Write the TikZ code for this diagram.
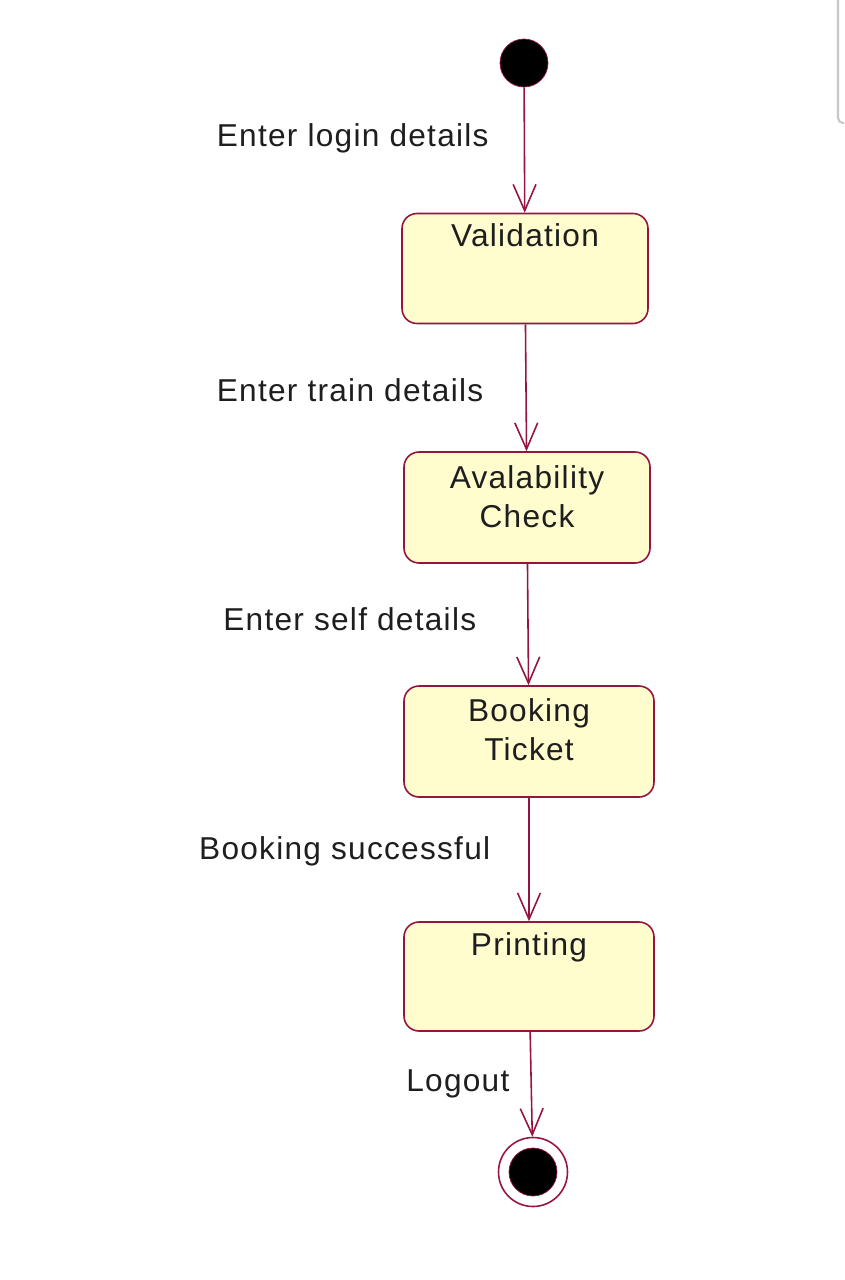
\documentclass[tikz,border=0pt]{standalone}
\usepackage{fontspec}
\setmainfont{Liberation Sans}[LetterSpace=4]
\usepackage{xcolor}
\usepackage{tikz}
\usetikzlibrary{arrows.meta,positioning}

\definecolor{umlline}{RGB}{150,20,65}
\definecolor{umlfill}{RGB}{255,252,206}
\definecolor{umltext}{RGB}{30,30,30}

\begin{document}
\begin{tikzpicture}[
    >={Straight Barb[length=15pt, width=13pt]},
    state/.style={draw=umlline, fill=umlfill, rounded corners=0.3cm,
                  line width=0.9pt, minimum width=4.92cm,
                  minimum height=2.2cm},
    title/.style={inner sep=0pt, align=center, anchor=north,
                  text=umltext},
    trans/.style={->, umlline, line width=0.9pt},
    lbl/.style={inner sep=0pt, text=umltext},
    every node/.style={font=\fontsize{18}{22}\selectfont},
  ]
  \useasboundingbox (0,0) rectangle (16.88,-25.6);

  % ── Screen edge ──
  \draw[black!22, line width=1.2pt, rounded corners=0.1cm]
    (16.76,0) -- (16.76,-2.46) -- (16.88,-2.46);

  % ── Start ──
  \node[circle, draw=umlline, fill=black, minimum size=0.96cm,
        inner sep=0pt] at (10.48,-1.26) (start) {};

  % ── States ──
  \node[state] at (10.50,-5.37) (valid) {};
  \node[title, below=0.22cm of valid.north] (validtxt) {Validation};

  \node[state, minimum height=2.22cm] at (10.54,-10.15) (avail) {};
  \node[title, below=0.28cm of avail.north] (availtxt)
    {Avalability\\Check};

  \node[state, minimum width=5cm, minimum height=2.22cm]
    at (10.58,-14.83) (booking) {};
  \node[title, below=0.27cm of booking.north] (bookingtxt)
    {Booking\\Ticket};

  \node[state, minimum width=5cm, minimum height=2.18cm]
    at (10.58,-19.53) (print) {};
  \node[title, below=0.22cm of print.north] (printtxt) {Printing};

  % ── End ──
  \node[circle, draw=umlline, fill=white, line width=0.9pt,
        minimum size=1.38cm, inner sep=0pt] at (10.66,-23.44) (stop) {};
  \node[circle, draw=umlline, fill=black, minimum size=0.96cm,
        inner sep=0pt] at (stop.center) (stopdot) {};

  % ── Transitions ──
  \draw[trans] (start) -- node[lbl, pos=0.41, left=0.7cm] (l1)
    {Enter login details} (valid);
  \draw[trans] (valid) -- node[lbl, pos=0.52, left=0.84cm] (l2)
    {Enter train details} (avail);
  \draw[trans] (avail) -- node[lbl, pos=0.46, left=1.02cm] (l3)
    {Enter self details} (booking);
  \draw[trans] (booking) -- node[lbl, pos=0.43, left=0.76cm] (l4)
    {Booking successful} (print);
  \draw[trans] (print) -- node[lbl, pos=0.5, left=0.42cm] (l5)
    {Logout} (stop);

\end{tikzpicture}
\end{document}
